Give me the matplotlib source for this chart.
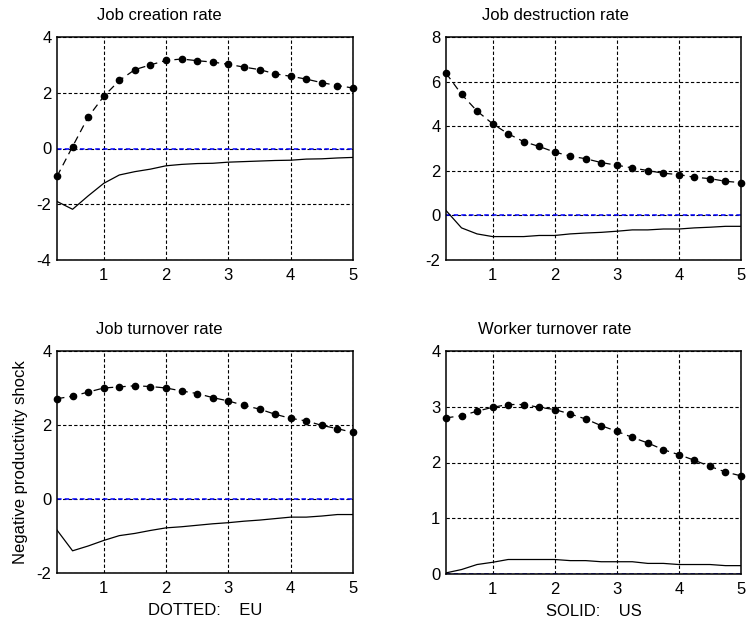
import matplotlib
matplotlib.use("Agg")
import matplotlib.pyplot as plt

plt.rcParams['font.family'] = ['Liberation Sans', 'DejaVu Sans']
plt.rcParams['axes.unicode_minus'] = False

quarters = [0.25, 0.5, 0.75, 1.0, 1.25, 1.5, 1.75, 2.0, 2.25, 2.5,
            2.75, 3.0, 3.25, 3.5, 3.75, 4.0, 4.25, 4.5, 4.75, 5.0]

titles = ["Job creation rate", "Job destruction rate",
          "Job turnover rate", "Worker turnover rate"]

eu_job_creation = [-1.0, 0.07, 1.13, 1.87, 2.44, 2.83, 3.0, 3.16, 3.21, 3.15,
                   3.10, 3.02, 2.92, 2.83, 2.68, 2.59, 2.49, 2.36, 2.26, 2.17]
us_job_creation = [-1.9, -2.18, -1.70, -1.25, -0.95, -0.83, -0.74, -0.62, -0.57, -0.54,
                   -0.53, -0.49, -0.47, -0.45, -0.43, -0.42, -0.38, -0.37, -0.34, -0.32]

eu_job_destruction = [6.38, 5.43, 4.68, 4.11, 3.66, 3.31, 3.09, 2.84, 2.66, 2.54,
                      2.37, 2.25, 2.13, 2.01, 1.89, 1.83, 1.71, 1.65, 1.53, 1.47]
us_job_destruction = [0.22, -0.56, -0.83, -0.95, -0.95, -0.95, -0.90, -0.90, -0.83, -0.79,
                      -0.76, -0.71, -0.65, -0.65, -0.61, -0.61, -0.56, -0.53, -0.49, -0.49]

eu_job_turnover = [2.71, 2.78, 2.89, 3.0, 3.03, 3.06, 3.04, 3.0, 2.92, 2.85,
                   2.74, 2.65, 2.53, 2.43, 2.29, 2.18, 2.11, 1.99, 1.90, 1.80]
us_job_turnover = [-0.84, -1.40, -1.27, -1.12, -0.99, -0.93, -0.85, -0.78, -0.75, -0.71,
                   -0.67, -0.64, -0.60, -0.57, -0.53, -0.49, -0.49, -0.46, -0.42, -0.42]

eu_worker_turnover = [2.80, 2.84, 2.92, 2.99, 3.04, 3.04, 2.99, 2.95, 2.87, 2.78,
                      2.66, 2.56, 2.45, 2.35, 2.23, 2.14, 2.04, 1.93, 1.83, 1.76]
us_worker_turnover = [0.02, 0.08, 0.17, 0.21, 0.26, 0.26, 0.26, 0.26, 0.24, 0.24,
                      0.22, 0.22, 0.22, 0.19, 0.19, 0.17, 0.17, 0.17, 0.15, 0.15]

eu_series = [eu_job_creation, eu_job_destruction, eu_job_turnover, eu_worker_turnover]
us_series = [us_job_creation, us_job_destruction, us_job_turnover, us_worker_turnover]

y_limits = [(-4, 4), (-2, 8), (-2, 4), (0, 4)]
y_ticks = [[-4, -2, 0, 2, 4], [-2, 0, 2, 4, 6, 8], [-2, 0, 2, 4], [0, 1, 2, 3, 4]]
x_ticks = [1, 2, 3, 4, 5]

FS = 12
W, H = 746, 625
fig = plt.figure(figsize=(W / 100, H / 100), dpi=100)

# panel boxes in pixels: left, top, right, bottom
boxes = [(57, 37, 353, 260), (446, 37, 741, 260),
         (57, 351, 353, 573), (446, 351, 741, 574)]
title_frac = [0.345, 0.37, 0.345, 0.37]

axes = []
for i, (l, t, r, b) in enumerate(boxes):
    ax = fig.add_axes([l / W, 1 - b / H, (r - l) / W, (b - t) / H])
    axes.append(ax)
    ax.set_xlim(0.25, 5)
    ax.set_ylim(*y_limits[i])
    ax.set_xticks(x_ticks)
    ax.set_yticks(y_ticks[i])
    ax.tick_params(length=0, labelsize=FS, pad=4)
    ax.tick_params(axis='x', pad=6)
    ax.grid(True, color='black', linestyle=(0, (3, 2)), linewidth=0.8)
    for s in ax.spines.values():
        s.set_linewidth(1.1)
    ax.axhline(0, color='#0000ff', linestyle=(0, (3, 2)), linewidth=1.1, zorder=2)
    ax.plot(quarters, us_series[i], color='black', linewidth=0.9, zorder=3)
    ax.plot(quarters, eu_series[i], color='black', linewidth=0.9,
            linestyle=(0, (6, 4)), marker='o', markersize=4.5, zorder=4,
            clip_on=False)
    ax.text(title_frac[i], 1 + 21 / (b - t), titles[i], transform=ax.transAxes,
            ha='center', va='center', fontsize=FS)

axes[2].set_ylabel("Negative productivity shock", fontsize=FS, labelpad=6)
axes[2].set_xlabel("DOTTED:    EU", fontsize=FS, labelpad=5)
axes[3].set_xlabel("SOLID:    US", fontsize=FS, labelpad=5)

fig.savefig("out.png", dpi=100)
